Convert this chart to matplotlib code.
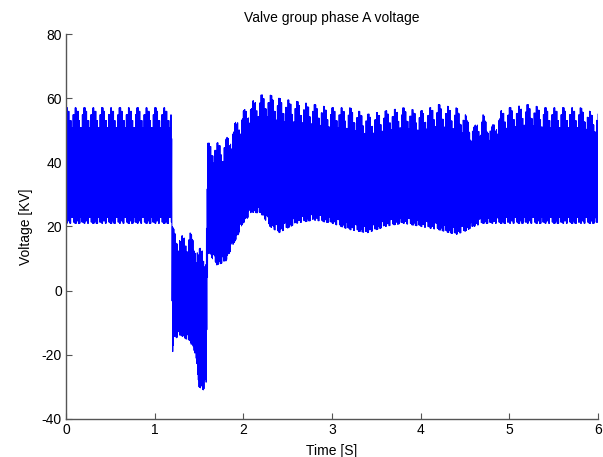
import numpy as np
import matplotlib
matplotlib.use("Agg")
import matplotlib.pyplot as plt

# ------------------------------
# Envelope of the valve voltage (kV) at breakpoints along time (s)
# ------------------------------
env_t = [0.0, 1.19, 1.20, 1.22, 1.30, 1.40, 1.45, 1.50, 1.55, 1.58,
         1.60, 1.70, 1.80, 1.90, 2.00, 2.10, 2.20, 2.30, 2.40, 2.60,
         2.80, 3.00, 3.20, 3.40, 3.60, 3.80, 4.00, 4.20, 4.40, 4.50,
         4.60, 4.70, 4.80, 4.90, 5.00, 5.20, 5.40, 5.60, 5.80, 6.00]
env_hi = [57, 57, 20, 19, 17, 18, 16, 13, 14, 16,
          46, 46, 47, 52, 56, 59, 61, 61, 60, 59,
          58, 57, 57, 55, 56, 57, 56, 58, 57, 55,
          51, 55, 51, 56, 57, 58, 57, 57, 57, 55]
env_lo = [21, 21, -20, -15, -14, -16, -19, -30, -31, -29,
          12, 8, 9, 15, 21, 24.5, 24, 20, 18, 21,
          22, 21, 19, 18, 20, 21, 20, 19, 17.5, 18.5,
          20, 21, 21, 21, 21, 21, 21, 21, 21, 21]

# repeating dip of the peaks / rise of the troughs (fraction of band),
# one entry per 20 ms step
hi_dip = [0.0, 0.03, 0.11, 0.17, 0.06]
lo_rise = [0.0, 0.02, 0.0, 0.05, 0.01]

HALF = 0.004  # half switching period, s
STEP = 0.02   # ripple step, s


def build_wave():
    n = int(round(6 / HALF)) + 1
    t = np.arange(n) * HALF
    hi = np.interp(t, env_t, env_hi)
    lo = np.interp(t, env_t, env_lo)
    band = hi - lo
    k = (t / STEP).astype(int)
    d_hi = np.array(hi_dip)[k % len(hi_dip)]
    d_lo = np.array(lo_rise)[k % len(lo_rise)]
    even = np.arange(n) % 2 == 0
    v = np.where(even, hi - d_hi * band, lo + d_lo * band)
    return t, v


t, v = build_wave()

plt.rcParams['font.family'] = ['Liberation Sans', 'DejaVu Sans']
plt.rcParams['axes.unicode_minus'] = False
fig = plt.figure(figsize=(6.03, 4.57), dpi=100)
ax = fig.add_axes([0.1095, 0.0832, 0.8822, 0.8424])
ax.plot(t, v, color='#0000ff', lw=0.7)

ax.set_xlim(0, 6)
ax.set_ylim(-40, 80)
ax.set_xticks(range(0, 7))
ax.set_yticks(range(-40, 81, 20))
for s in ('top', 'right'):
    ax.spines[s].set_visible(False)
for s in ('left', 'bottom'):
    ax.spines[s].set_color('#555555')
    ax.spines[s].set_linewidth(1.0)
ax.tick_params(direction='in', length=4, color='#555555', labelsize=10, pad=3)
ax.set_title("Valve group phase A voltage", fontsize=10, pad=9)
ax.set_xlabel("Time [S]", fontsize=10, labelpad=5)
ax.set_ylabel("Voltage [KV]", fontsize=10, labelpad=6)

fig.savefig("out.png", dpi=100)
